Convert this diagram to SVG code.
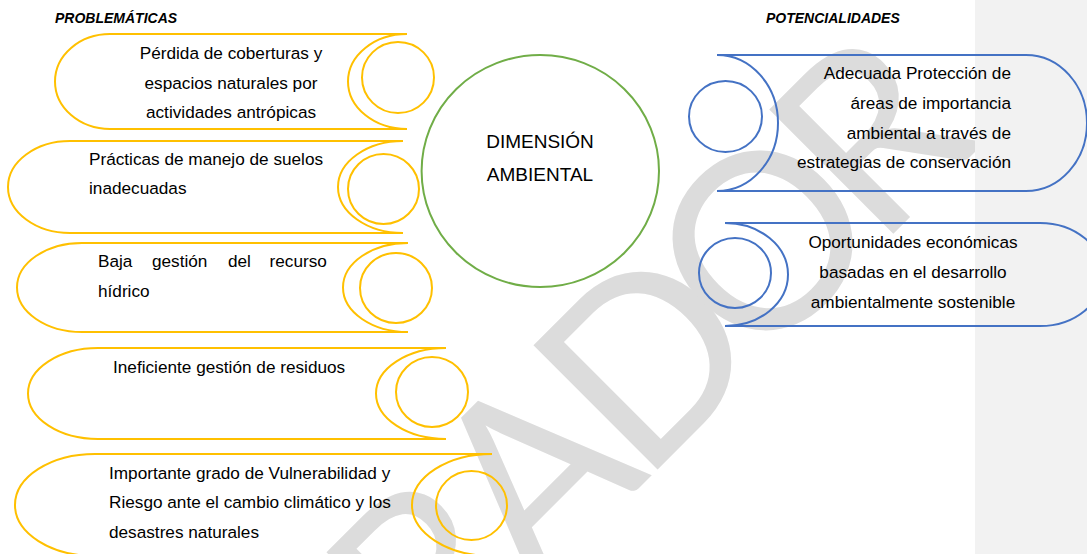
<svg xmlns="http://www.w3.org/2000/svg" width="1087" height="554" viewBox="0 0 1087 554">
<style>
.y{fill:none;stroke:#FFC000;stroke-width:2}
.b{fill:none;stroke:#4472C4;stroke-width:2}
.t{font-family:"Liberation Sans",Arial,sans-serif;font-size:17.2px;fill:#000}
.h{font-family:"Liberation Sans",Arial,sans-serif;font-size:14px;font-weight:bold;font-style:italic;fill:#000}
.c{font-family:"Liberation Sans",Arial,sans-serif;font-size:19px;fill:#000}
.wm{font-family:Lato,"Open Sans",sans-serif;font-size:245px;fill:#dcdcdc}
</style>
<rect width="1087" height="554" fill="#fff"/>
<g id="watermark" transform="translate(112,1015) rotate(-45)">
<text class="wm" x="0 142 314.8 456.5 598.2 749.3 909.8 1082.6" y="0">BORRADOR</text>
</g>
<rect id="panel" x="975" y="0" width="112" height="554" fill="#f2f2f2"/>
<g id="connectors"></g>
<text class="h" x="55" y="22.7">PROBLEMÁTICAS</text>
<text class="h" x="766" y="22.7">POTENCIALIDADES</text>
<g id="center">
<ellipse cx="540.3" cy="171" rx="118.7" ry="116" fill="none" stroke="#70AD47" stroke-width="2"/>
<text class="c" x="540" y="148.3" text-anchor="middle">DIMENSIÓN</text>
<text class="c" x="540" y="180.7" text-anchor="middle">AMBIENTAL</text>
</g>
<g id="p1">
<path class="y" d="M407,34 H110 A55,47.5 0 0 0 110,129 H407"/>
<path class="y" d="M407,34 A59,47.5 0 0 0 407,129"/>
<ellipse class="y" cx="398" cy="77.5" rx="36" ry="35.5"/>
<text class="t" text-anchor="middle"><tspan x="231" y="59">Pérdida de coberturas y</tspan><tspan x="231" y="88.5">espacios naturales por</tspan><tspan x="231" y="118">actividades antrópicas</tspan></text>
</g>
<g id="p2">
<path class="y" d="M403,141 H70 A62,46 0 0 0 70,233 H403"/>
<path class="y" d="M403,141 A65,46 0 0 0 403,233"/>
<ellipse class="y" cx="383.5" cy="189" rx="35.5" ry="35"/>
<text class="t"><tspan x="89" y="165">Prácticas de manejo de suelos</tspan><tspan x="89" y="194">inadecuadas</tspan></text>
</g>
<g id="p3">
<path class="y" d="M408,243 H82 A65,44.5 0 0 0 82,332 H408"/>
<path class="y" d="M408,243 A65,44.5 0 0 0 408,332"/>
<ellipse class="y" cx="396" cy="288" rx="36" ry="35"/>
<text class="t"><tspan x="98" y="267">Baja</tspan><tspan x="152" y="267">gestión</tspan><tspan x="228" y="267">del</tspan><tspan x="269.5" y="267">recurso</tspan><tspan x="98" y="297">hídrico</tspan></text>
</g>
<g id="p4">
<path class="y" d="M446,348 H98 A70,45.5 0 0 0 98,439 H446"/>
<path class="y" d="M446,348 A70,45.5 0 0 0 446,439"/>
<ellipse class="y" cx="432" cy="392" rx="36" ry="35"/>
<text class="t" x="113" y="373">Ineficiente gestión de residuos</text>
</g>
<g id="p5">
<path class="y" d="M492,454 H95 A80,51 0 0 0 95,556 H492"/>
<path class="y" d="M492,454 A80,51 0 0 0 492,556"/>
<ellipse class="y" cx="471.5" cy="505.5" rx="35.5" ry="34.5"/>
<text class="t"><tspan x="109" y="479">Importante grado de Vulnerabilidad y</tspan><tspan x="109" y="508">Riesgo ante el cambio climático y los</tspan><tspan x="109" y="538">desastres naturales</tspan></text>
</g>
<g id="q1">
<path class="b" d="M717,55 H1026 A61,68 0 0 1 1026,191 H717"/>
<path class="b" d="M717,55 A61,68 0 0 1 717,191"/>
<ellipse class="b" cx="725.5" cy="116.5" rx="36.5" ry="35.5"/>
<text class="t" text-anchor="end"><tspan x="1011" y="79">Adecuada Protección de</tspan><tspan x="1011" y="109">áreas de importancia</tspan><tspan x="1011" y="139">ambiental a través de</tspan><tspan x="1011" y="168">estrategias de conservación</tspan></text>
</g>
<g id="q2">
<path class="b" d="M725,223 H1040 A63,51.5 0 0 1 1040,326 H725"/>
<path class="b" d="M725,223 A63,51.5 0 0 1 725,326"/>
<ellipse class="b" cx="735" cy="273" rx="36" ry="35"/>
<text class="t" text-anchor="middle"><tspan x="913" y="248">Oportunidades económicas</tspan><tspan x="913" y="278">basadas en el desarrollo</tspan><tspan x="913" y="308">ambientalmente sostenible</tspan></text>
</g>
</svg>
